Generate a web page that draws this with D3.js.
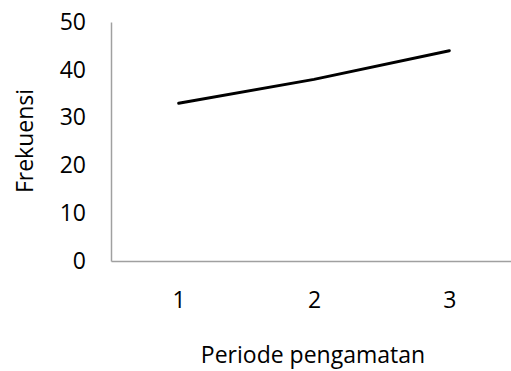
<!DOCTYPE html>
<html>
<head>
<meta charset="utf-8">
<script src="https://cdn.jsdelivr.net/npm/d3@7"></script>
<style>
  body { margin: 0; background: #fff; }
  text { font-family: "Open Sans", sans-serif; fill: #000; }
</style>
</head>
<body>
<script>
var periods = ["1", "2", "3"];
var frekuensi = [33, 38, 44];
var yTicks = [0, 10, 20, 30, 40, 50];

var w = 511, h = 371;

//plot area
var margin = { top: 22, left: 111, bottom: 110, right: -6 };
var width = w - margin.left - margin.right;
var height = h - margin.top - margin.bottom;

var svg = d3.select("body").append("svg")
    .attr("width", w)
    .attr("height", h);

var chart = svg.append("g")
    .attr("transform", "translate(" + margin.left + "," + margin.top + ")");

var x = d3.scalePoint()
    .domain(periods)
    .range([0, width])
    .padding(0.5);

var y = d3.scaleLinear()
    .domain([0, 50])
    .range([height, 0]);

//y axis
var yAxis = chart.append("g")
    .call(d3.axisLeft(y).tickValues(yTicks).tickSize(0).tickPadding(25));
yAxis.select(".domain").attr("stroke", "#a0a0a0").attr("stroke-width", 1.5);
yAxis.selectAll("text").style("font-size", "23px");

//x axis
var xAxis = chart.append("g")
    .attr("transform", "translate(0," + height + ")")
    .call(d3.axisBottom(x).tickSize(0).tickPadding(31));
xAxis.select(".domain").attr("stroke", "#a0a0a0").attr("stroke-width", 1.5);
xAxis.selectAll("text").style("font-size", "23px");

//line
var line = d3.line()
    .x(function(d, i) { return x(periods[i]); })
    .y(function(d) { return y(d); });

chart.append("path")
    .datum(frekuensi)
    .attr("fill", "none")
    .attr("stroke", "#000")
    .attr("stroke-width", 3)
    .attr("stroke-linecap", "round")
    .attr("d", line);

//axis titles
svg.append("text")
    .attr("x", 313)
    .attr("y", 363)
    .attr("text-anchor", "middle")
    .style("font-size", "23px")
    .text("Periode pengamatan");

svg.append("text")
    .attr("transform", "translate(33,141) rotate(-90)")
    .attr("text-anchor", "middle")
    .style("font-size", "23px")
    .text("Frekuensi");
</script>
</body>
</html>
